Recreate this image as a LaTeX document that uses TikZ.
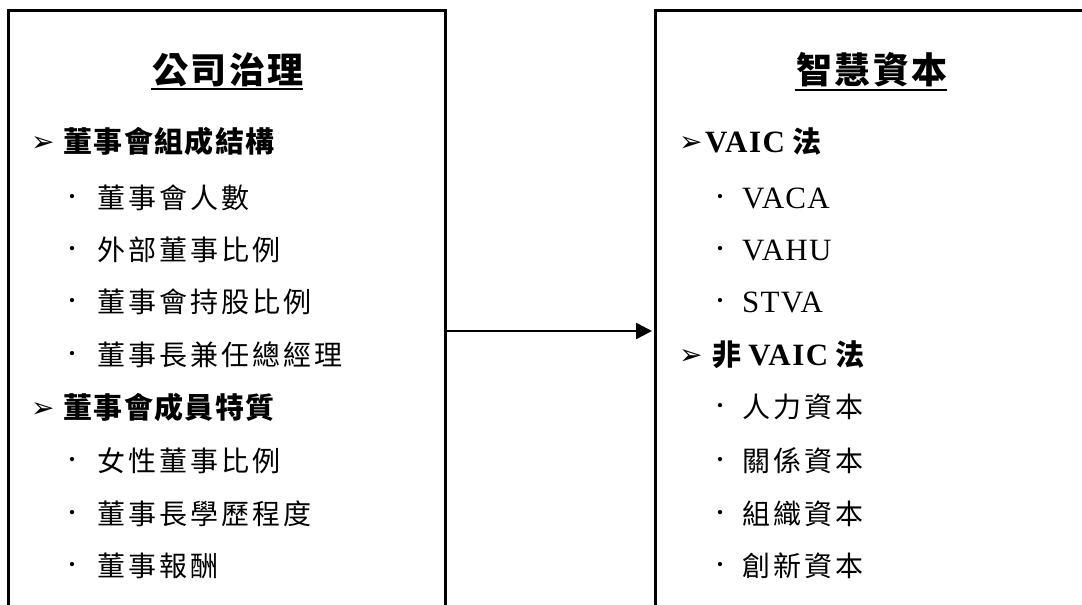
\documentclass[tikz,border=0pt]{standalone}
\usepackage{fontspec}
\setmainfont{Liberation Serif}
\newfontfamily\cjk{Noto Sans CJK TC}
\newfontfamily\dv{DejaVu Sans}
\usetikzlibrary{arrows.meta}
\newcommand\hbul[1]{\makebox[#1][l]{\raisebox{1pt}{\fontsize{28}{28}\selectfont\dv\mdseries ➢}}}
\newcommand\ibul[1]{\makebox[#1][l]{\fontsize{36}{30}\selectfont\mdseries ·}}
\newcommand\ci[1]{{\cjk\addfontfeatures{LetterSpace=11}#1}}
\newcommand\ch[1]{{\cjk\addfontfeatures{LetterSpace=5}#1}}
\begin{document}
\begin{tikzpicture}[x=1pt,y=-1pt,
  boxstyle/.style={draw=black, line width=3pt, rectangle, inner sep=0pt},
  titlestyle/.style={inner sep=0pt, font=\fontsize{36}{38}\selectfont\cjk\bfseries\addfontfeatures{LetterSpace=6}},
  headstyle/.style={anchor=west, inner sep=0pt, font=\fontsize{29}{32}\selectfont\bfseries},
  itemstyle/.style={anchor=west, inner sep=0pt, font=\fontsize{28}{32}\selectfont},
  arr/.style={line width=2.5pt, -{Triangle[length=16pt,width=16pt]}, shorten >=1.5pt}
]
\useasboundingbox (0,0) rectangle (1082,605);
\clip (0,0) rectangle (1082,605);
\fill[white] (0,0) rectangle (1082,605);

% boxes (bottom cut off by the page)
\node[boxstyle, minimum width=436.5pt, minimum height=690pt] (lbox) at (226.75,355) {};
\node[boxstyle, minimum width=434pt, minimum height=690pt] (rbox) at (872,355) {};

% titles
\node[titlestyle] (ltitle) at (228,70) {公司治理};
\node[titlestyle] (rtitle) at (872,70) {智慧資本};
\draw[line width=2pt] ([yshift=-2pt,xshift=-2pt]ltitle.south west) -- ([yshift=-2pt]ltitle.south east);
\draw[line width=2pt] ([yshift=-2pt,xshift=-2pt]rtitle.south west) -- ([yshift=-2pt]rtitle.south east);

% left column
\node[headstyle] (lh1) at (31,141) {\hbul{32pt}\ch{董事會組成結構}};
\node[itemstyle] (li1) at (66,198) {\ibul{31pt}\ci{董事會人數}};
\node[itemstyle] (li2) at (66,250) {\ibul{31pt}\ci{外部董事比例}};
\node[itemstyle] (li3) at (66,302) {\ibul{31pt}\ci{董事會持股比例}};
\node[itemstyle] (li4) at (66,355) {\ibul{31pt}\ci{董事長兼任總經理}};
\node[headstyle] (lh2) at (31,407) {\hbul{32pt}\ch{董事會成員特質}};
\node[itemstyle] (li5) at (66,461) {\ibul{31pt}\ci{女性董事比例}};
\node[itemstyle] (li6) at (66,514) {\ibul{31pt}\ci{董事長學歷程度}};
\node[itemstyle] (li7) at (66,566) {\ibul{31pt}\ci{董事報酬}};

% right column
\node[headstyle] (rh1) at (679,141) {\hbul{26pt}{\fontsize{31}{32}\selectfont\addfontfeatures{LetterSpace=5}VAIC} \ch{法}};
\node[itemstyle] (ri1) at (714,198) {\ibul{28pt}{\fontsize{31}{32}\selectfont\addfontfeatures{LetterSpace=4}VACA}};
\node[itemstyle] (ri2) at (714,250) {\ibul{28pt}{\fontsize{31}{32}\selectfont\addfontfeatures{LetterSpace=4}VAHU}};
\node[itemstyle] (ri3) at (714,302) {\ibul{28pt}{\fontsize{31}{32}\selectfont\addfontfeatures{LetterSpace=4}STVA}};
\node[headstyle] (rh2) at (679,355) {\hbul{33pt}\ch{非} {\fontsize{31}{32}\selectfont\addfontfeatures{LetterSpace=5}VAIC} \ch{法}};
\node[itemstyle] (ri4) at (714,407) {\ibul{28pt}\ci{人力資本}};
\node[itemstyle] (ri5) at (714,461) {\ibul{28pt}\ci{關係資本}};
\node[itemstyle] (ri6) at (714,514) {\ibul{28pt}\ci{組織資本}};
\node[itemstyle] (ri7) at (714,566) {\ibul{28pt}\ci{創新資本}};

% connector
\draw[arr] (lbox.east |- 0,331) -- (rbox.west |- 0,331);
\end{tikzpicture}
\end{document}
